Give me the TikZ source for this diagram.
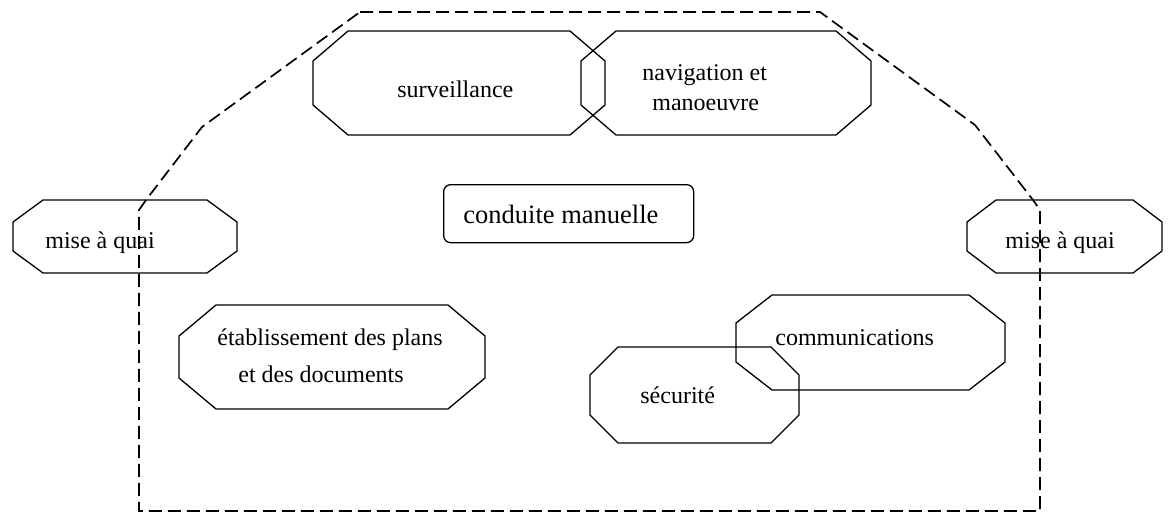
\documentclass[tikz,border=0pt]{standalone}
\usepackage{fontspec}
\setmainfont{Liberation Serif}
\begin{document}
\begin{tikzpicture}[x=0.5pt,y=-0.5pt,
  octline/.style={draw=black,line width=0.65pt,line join=miter},
  zone/.style={draw=black,line width=0.85pt,dash pattern=on 6.5pt off 3pt},
  lbl/.style={anchor=base west,inner sep=0pt,font=\fontsize{12}{14}\selectfont},
  bigbox/.style={draw=black,line width=0.65pt,rounded corners=3.5pt,anchor=north west,inner sep=0pt}]
\useasboundingbox (0,0) rectangle (1171,514);
% octagon: left top right bottom, horizontal cut, vertical cut
\newcommand\octpath[6]{%
  \draw[octline] (#1+#5,#2) -- (#3-#5,#2) -- (#3,#2+#6) -- (#3,#4-#6)
    -- (#3-#5,#4) -- (#1+#5,#4) -- (#1,#4-#6) -- (#1,#2+#6) -- cycle;}
% dashed outline of the whole domain
\draw[zone] (360,12) -- (820,12) -- (975,125) -- (1033,200) -- (1040,210)
  -- (1040,511) -- (139,511) -- (139,210) -- (146,200) -- (202,127) -- cycle;
% task octagons
\octpath{313}{31}{605}{135}{35}{30}
\octpath{581}{31}{871}{135}{35}{30}
\octpath{13}{200}{237}{273}{30}{22}
\octpath{967}{200}{1162}{273}{29}{22}
\octpath{179}{305}{485}{409}{37}{31}
\octpath{736}{295}{1005}{390}{36}{28}
\octpath{590}{347}{799}{443}{28}{28}
% central box
\node[bigbox,minimum width=125pt,minimum height=29pt] (conduite) at (443,184) {};
\node[anchor=base west,inner sep=0pt,font=\fontsize{13.25}{16}\selectfont] (conduiteT) at (463,223) {conduite manuelle};
% labels
\node[lbl] (surv) at (397,97) {surveillance};
\node[lbl] (nav1) at (642,80) {navigation et};
\node[lbl] (nav2) at (652,110) {manoeuvre};
\node[lbl] (quaiL) at (45,248) {mise à quai};
\node[lbl] (quaiR) at (1005,248) {mise à quai};
\node[lbl] (plans1) at (217,345) {établissement des plans};
\node[lbl] (plans2) at (238,382) {et des documents};
\node[lbl] (comm) at (775,345) {communications};
\node[lbl] (secu) at (640,403) {sécurité};
\end{tikzpicture}
\end{document}
